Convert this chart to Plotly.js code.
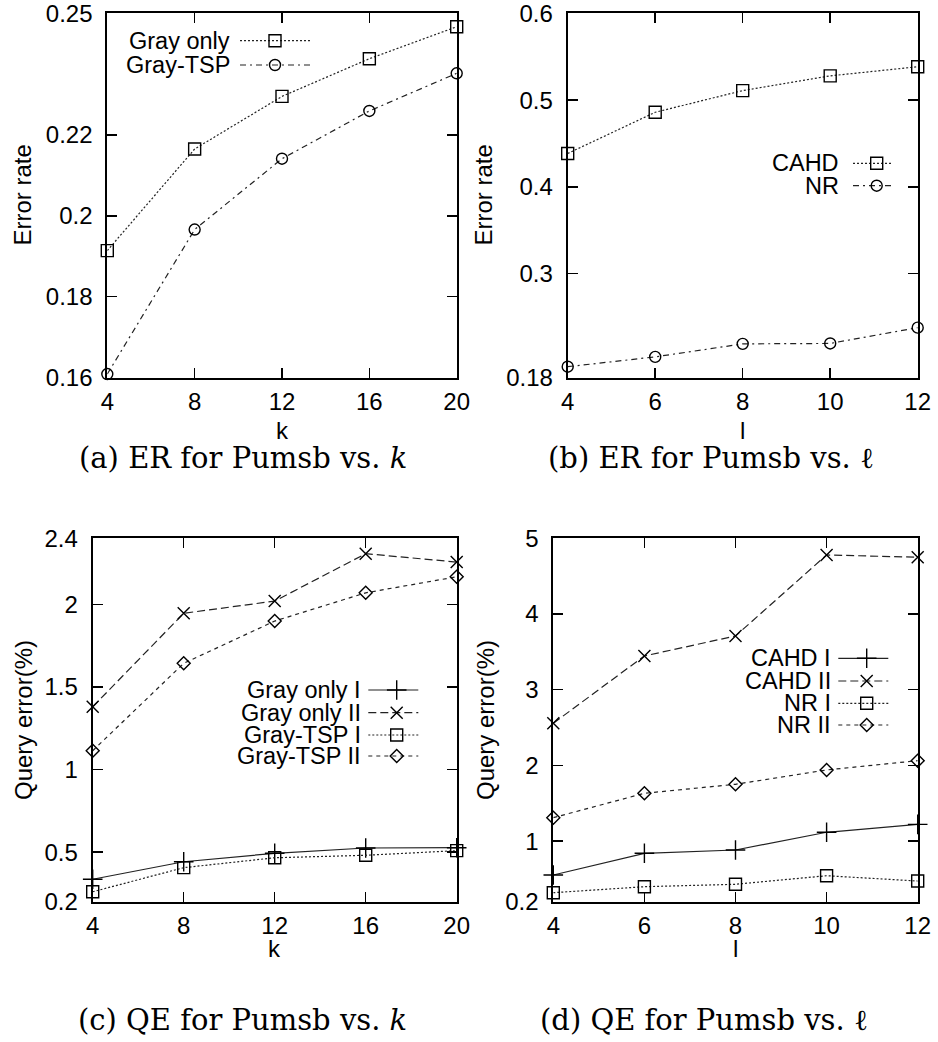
<!DOCTYPE html>
<html>
<head>
<meta charset="utf-8">
<script src="https://cdn.plot.ly/plotly-3.0.1.min.js"></script>
<style>
  html, body { margin: 0; padding: 0; background: #fff; }
  #chart { width: 938px; height: 1042px; }
</style>
</head>
<body>
<div id="chart"></div>
<script>
// ---- data ----
const kValues = [4, 8, 12, 16, 20];
const lValues = [4, 6, 8, 10, 12];

// (a) error rate vs k
const erGrayOnly = [0.1914, 0.2165, 0.2295, 0.2388, 0.2467];
const erGrayTSP  = [0.1609, 0.1966, 0.2141, 0.2259, 0.2352];

// (b) error rate vs l
const erCAHD = [0.4385, 0.486, 0.511, 0.528, 0.5385];
const erNR   = [0.1927, 0.204, 0.219, 0.2195, 0.2377];

// (c) query error (%) vs k
const qeGrayOnlyI  = [0.336, 0.442, 0.493, 0.525, 0.527];
const qeGrayOnlyII = [1.38, 1.946, 2.02, 2.307, 2.256];
const qeGrayTSPI   = [0.26, 0.406, 0.466, 0.481, 0.509];
const qeGrayTSPII  = [1.114, 1.643, 1.899, 2.07, 2.167];

// (d) query error (%) vs l
const qeCAHDI  = [0.553, 0.839, 0.883, 1.117, 1.222];
const qeCAHDII = [2.557, 3.446, 3.71, 4.78, 4.75];
const qeNRI    = [0.319, 0.398, 0.43, 0.543, 0.473];
const qeNRII   = [1.31, 1.632, 1.751, 1.94, 2.063];

// tick labels
const ticksA = [0.16, 0.18, 0.2, 0.22, 0.25];
const ticksB = [0.18, 0.3, 0.4, 0.5, 0.6];
const ticksC = [0.2, 0.5, 1, 1.5, 2, 2.4];
const ticksD = [0.2, 1, 2, 3, 4, 5];

// ---- styling ----
const W = 938, H = 1042;
const SANS = 'Liberation Sans, Arial, sans-serif';
const SERIF = 'DejaVu Serif, serif';
const FS = 24;
const KEY_FS = 23.5;
const INK = '#000';
const LINE = '#222';

const STYLES = {
  dotted:   { dash: '2px,2px' },
  dashdot:  { dash: '6px,4px,2px,4px' },
  solid:    { dash: 'solid' },
  dashed:   { dash: '8px,4px' },
  short:    { dash: '4px,4px' }
};
const MARKERS = {
  square:  { symbol: 'square-open', size: 12 },
  circle:  { symbol: 'circle-open', size: 11 },
  plus:    { symbol: 'cross-thin-open', size: 14 },
  cross:   { symbol: 'x-thin-open', size: 12 },
  diamond: { symbol: 'diamond-open', size: 10 }
};

const px = x => x / W;
const py = y => 1 - y / H;

// plot frames in pixels: [left, top, right, bottom]
const frames = {
  a: [107.3, 13.4, 456.7, 377.7],
  b: [567.7, 13.4, 917.7, 377.7],
  c: [92.7, 538.3, 456.7, 901.7],
  d: [553.3, 538.3, 917.7, 901.7]
};

function series(name, xs, ys, line, mk, ax) {
  return {
    type: 'scatter', mode: 'lines+markers', name: name,
    x: xs, y: ys, xaxis: ax[0], yaxis: ax[1],
    cliponaxis: false, showlegend: false,
    line: { color: LINE, width: 1.2, dash: STYLES[line].dash },
    marker: { symbol: MARKERS[mk].symbol, size: MARKERS[mk].size, color: INK,
              line: { color: INK, width: 1.4 } },
    hoverinfo: 'x+y+name'
  };
}

const traces = [
  series('Gray only', kValues, erGrayOnly, 'dotted', 'square', ['x', 'y']),
  series('Gray-TSP', kValues, erGrayTSP, 'dashdot', 'circle', ['x', 'y']),
  series('CAHD', lValues, erCAHD, 'dotted', 'square', ['x2', 'y2']),
  series('NR', lValues, erNR, 'dashdot', 'circle', ['x2', 'y2']),
  series('Gray only I', kValues, qeGrayOnlyI, 'solid', 'plus', ['x3', 'y3']),
  series('Gray only II', kValues, qeGrayOnlyII, 'dashed', 'cross', ['x3', 'y3']),
  series('Gray-TSP I', kValues, qeGrayTSPI, 'dotted', 'square', ['x3', 'y3']),
  series('Gray-TSP II', kValues, qeGrayTSPII, 'short', 'diamond', ['x3', 'y3']),
  series('CAHD I', lValues, qeCAHDI, 'solid', 'plus', ['x4', 'y4']),
  series('CAHD II', lValues, qeCAHDII, 'dashed', 'cross', ['x4', 'y4']),
  series('NR I', lValues, qeNRI, 'dotted', 'square', ['x4', 'y4']),
  series('NR II', lValues, qeNRII, 'short', 'diamond', ['x4', 'y4'])
];

// ---- in-plot keys (text on the left, line sample + symbol on the right) ----
// drawn on a full-page overlay axis measured in pixels
const keyBlocks = [
  { textRight: 232, x0: 240, x1: 310, xm: 275, rows: [40.7, 65],
    items: [['Gray only', 'dotted', 'square'], ['Gray-TSP', 'dashdot', 'circle']] },
  { textRight: 841, x0: 853, x1: 893, xm: 876.7, rows: [163.3, 185.7],
    items: [['CAHD', 'dotted', 'square'], ['NR', 'dashdot', 'circle']] },
  { textRight: 363.3, x0: 368.3, x1: 418.3, xm: 396.7, rows: [690, 712.7, 735, 756],
    items: [['Gray only I', 'solid', 'plus'], ['Gray only II', 'dashed', 'cross'],
            ['Gray-TSP I', 'dotted', 'square'], ['Gray-TSP II', 'short', 'diamond']] },
  { textRight: 832.7, x0: 838.3, x1: 888.3, xm: 866.7, rows: [658.3, 681, 703.3, 725],
    items: [['CAHD I', 'solid', 'plus'], ['CAHD II', 'dashed', 'cross'],
            ['NR I', 'dotted', 'square'], ['NR II', 'short', 'diamond']] }
];

const annotations = [];
keyBlocks.forEach(b => {
  b.items.forEach((it, i) => {
    const y = b.rows[i];
    traces.push({
      type: 'scatter', mode: 'lines', x: [b.x0, b.x1], y: [y, y],
      xaxis: 'x5', yaxis: 'y5', showlegend: false, hoverinfo: 'skip',
      line: { color: LINE, width: 1.2, dash: STYLES[it[1]].dash }
    });
    traces.push({
      type: 'scatter', mode: 'markers', x: [b.xm], y: [y],
      xaxis: 'x5', yaxis: 'y5', showlegend: false, hoverinfo: 'skip', cliponaxis: false,
      marker: { symbol: MARKERS[it[2]].symbol, size: MARKERS[it[2]].size, color: INK,
                line: { color: INK, width: 1.4 } }
    });
    annotations.push({
      xref: 'paper', yref: 'paper', x: px(b.textRight), y: py(y),
      xanchor: 'right', yanchor: 'middle', showarrow: false,
      text: it[0], font: { family: SANS, size: KEY_FS, color: INK }
    });
  });
});

// axis titles
function label(text, x, y, rot) {
  annotations.push({
    xref: 'paper', yref: 'paper', x: px(x), y: py(y), xanchor: 'center', yanchor: 'middle',
    showarrow: false, text: text, textangle: rot || 0,
    font: { family: SANS, size: FS, color: INK }
  });
}
label('Error rate', 23, 195.6, -90);
label('Error rate', 484, 195.6, -90);
label('Query error(%)', 23, 720, -90);
label('Query error(%)', 485, 720, -90);
label('k', 282, 430);
label('l', 742.7, 430);
label('k', 274.7, 948);
label('l', 735.5, 948);

// captions
function caption(text, x, y) {
  annotations.push({
    xref: 'paper', yref: 'paper', x: px(x), y: py(y), xanchor: 'center', yanchor: 'middle',
    showarrow: false, text: text, font: { family: SERIF, size: 29, color: INK }
  });
}
caption('(a) ER for Pumsb vs. <i>k</i>', 243, 458);
caption('(b) ER for Pumsb vs. ℓ', 711, 458);
caption('(c) QE for Pumsb vs. <i>k</i>', 243, 1020);
caption('(d) QE for Pumsb vs. ℓ', 704, 1020);

// ---- axes ----
function baseAxis(vals) {
  return {
    tickmode: 'array', tickvals: vals, ticktext: vals.map(String),
    ticks: 'inside', ticklen: 10, tickwidth: 1.5, tickcolor: INK,
    showline: true, linewidth: 2, linecolor: INK, mirror: 'allticks',
    showgrid: false, zeroline: false, fixedrange: true,
    ticklabeloverflow: 'allow',
    tickfont: { family: SANS, size: FS, color: INK }
  };
}
function xAxis(f, range, vals, anchor) {
  return Object.assign(baseAxis(vals), {
    domain: [px(f[0]), px(f[2])], range: range, anchor: anchor, ticklabelstandoff: 1
  });
}
function yAxis(f, range, vals, anchor) {
  return Object.assign(baseAxis(vals), {
    domain: [py(f[3]), py(f[1])], range: range, anchor: anchor, ticklabelstandoff: 8
  });
}

const layout = {
  width: W, height: H,
  margin: { l: 0, r: 0, t: 0, b: 0 },
  paper_bgcolor: '#fff', plot_bgcolor: 'rgba(0,0,0,0)',
  showlegend: false,
  xaxis:  xAxis(frames.a, [4, 20], kValues, 'y'),
  yaxis:  yAxis(frames.a, [0.16, 0.25], ticksA, 'x'),
  xaxis2: xAxis(frames.b, [4, 12], lValues, 'y2'),
  yaxis2: yAxis(frames.b, [0.18, 0.6], ticksB, 'x2'),
  xaxis3: xAxis(frames.c, [4, 20], kValues, 'y3'),
  yaxis3: yAxis(frames.c, [0.2, 2.4], ticksC, 'x3'),
  xaxis4: xAxis(frames.d, [4, 12], lValues, 'y4'),
  yaxis4: yAxis(frames.d, [0.2, 5], ticksD, 'x4'),
  xaxis5: { domain: [0, 1], range: [0, W], anchor: 'y5', visible: false, fixedrange: true },
  yaxis5: { domain: [0, 1], range: [H, 0], anchor: 'x5', visible: false, fixedrange: true },
  annotations: annotations
};

Plotly.newPlot('chart', traces, layout, { displayModeBar: false, staticPlot: true });
</script>
</body>
</html>
